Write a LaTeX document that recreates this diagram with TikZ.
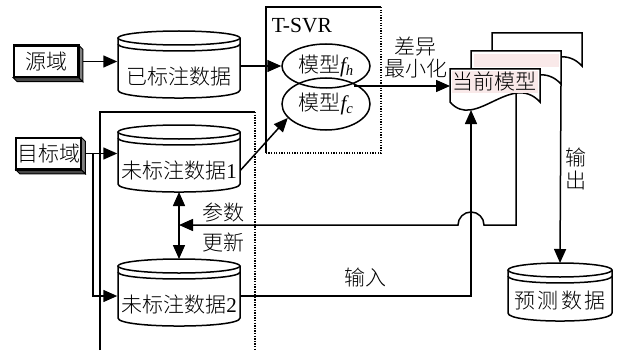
\documentclass[tikz,border=0pt]{standalone}
\usepackage{fontspec}
\setmainfont{Liberation Serif}
\IfFontExistsTF{Noto Sans CJK SC Light}{\newfontfamily\cjk{Noto Sans CJK SC Light}}{\newfontfamily\cjk{Noto Sans CJK SC}}
\usetikzlibrary{arrows.meta,shapes.geometric}
\definecolor{pinkbg}{RGB}{249,233,233}

\newcommand{\dbcyl}[4]{% x0, x1, top, side length
  \pgfmathsetmacro{\cylcx}{(#1+#2)/2}
  \pgfmathsetmacro{\cylrx}{(#2-#1)/2}
  \fill[white] (#1,#3+7) -- (#1,#3+7+#4) .. controls (#1,#3+7+#4+10.7) and (#2,#3+7+#4+10.7) .. (#2,#3+7+#4) -- (#2,#3+7) -- cycle;
  \draw (#1,#3+7) -- (#1,#3+7+#4) .. controls (#1,#3+7+#4+10.7) and (#2,#3+7+#4+10.7) .. (#2,#3+7+#4) -- (#2,#3+7);
  \filldraw[fill=white] (\cylcx,#3+7) ellipse [x radius=\cylrx, y radius=7];
  \draw (#1,#3+13) .. controls (#1,#3+22.3) and (#2,#3+22.3) .. (#2,#3+13);
}
\newcommand{\docpage}[2]{% top-left x, y
  \filldraw[fill=white] (#1,#2+33) -- (#1,#2) -- (#1+90,#2) -- (#1+90,#2+33) .. controls (#1+61,#2+2) and (#1+25,#2+62) .. (#1,#2+33) -- cycle;
}
\newcommand{\bevel}[1]{%
  \filldraw[fill=black!50, line width=1pt] (#1.north east) -- ([shift={(4,4)}]#1.north east) -- ([shift={(4,4)}]#1.south east) -- (#1.south east) -- cycle;
  \filldraw[fill=black!72, line width=1pt] (#1.south west) -- ([shift={(4,4)}]#1.south west) -- ([shift={(4,4)}]#1.south east) -- (#1.south east) -- cycle;
  \draw (#1.north west) rectangle (#1.south east);
}

\begin{document}
\begin{tikzpicture}[x=1pt,y=-1pt,line width=1.5pt,
  every node/.style={font=\cjk\fontsize{21}{24}\selectfont, inner sep=0pt},
  arr/.style={-{Triangle[length=14pt,width=12pt]}},
  arrb/.style={{Triangle[length=14pt,width=12pt]}-{Triangle[length=14pt,width=12pt]}},
  dotline/.style={line width=1.3pt, dash pattern=on 1.3pt off 1.3pt},
  frameline/.style={line width=1.3pt},
  domainbox/.style={draw, fill=white, minimum width=64, minimum height=31},
  ellnode/.style={draw, ellipse, minimum width=88}]
\useasboundingbox (0,0) rectangle (617,350);

% frames
\draw[frameline] (266,153) -- (266,7) -- (381,7);
\draw[dotline] (381,7) -- (381,153) -- (266,153);
\node[font=\fontsize{21.5}{24}\selectfont, anchor=west] (tsvr) at (271,26) {T-SVR};
\draw[frameline] (100,350) -- (100,112) -- (255,112);
\draw[dotline] (255,112) -- (255,350);

% domain boxes
\node[domainbox] (src) at (46,61.5) {源域};
\node[domainbox] (tgt) at (48.5,153.5) {目标域};

% cylinders
\dbcyl{118}{240}{31}{52}
\node[minimum width=122] (cyl0) at (179,76) {已标注数据};
\dbcyl{118}{240}{125}{52}
\node[minimum width=122] (cyl1) at (179,170) {未标注数据{\rmfamily 1}};
\dbcyl{118}{240}{259}{52}
\node[minimum width=122] (cyl2) at (179,304) {未标注数据{\rmfamily 2}};
\dbcyl{508}{612}{263}{43}
\node (pred) at (560,301) {预\hspace{2.5pt}测\hspace{2.5pt}数\hspace{2.5pt}据};

% ellipses
\node[ellnode, minimum height=44] (ellA) at (326,66) {模型{\rmfamily\itshape f}\textsubscript{\rmfamily\itshape h}};
\node[ellnode, minimum height=52] (ellB) at (326,104) {模型{\rmfamily\itshape f}\textsubscript{\rmfamily\itshape c}};

% helper coordinates
\coordinate (ellX) at (354,86);
\coordinate (docL) at (450,86);
\coordinate (docIn) at (471,110);
\coordinate (docPar) at (516,85);
\coordinate (docOut) at (561,84);
\coordinate (predTop) at (560,263);
\coordinate (tgtJ) at (93,153.5);
\coordinate (in2) at (179,296);
\coordinate (cyl1b) at (179,192);
\coordinate (cyl2t) at (179,259);
\coordinate (parJ) at (179,225);

% connectors
\draw[arr] (src.east) -- (src.east -| cyl0.west);
\draw[arr] (cyl0.east |- ellA.west) -- (ellA.west);
\draw[arr] (cyl1.east) -- (ellB.200);
\draw[arr] (ellX) -- (docL);
\draw[arr] (tgt.east) -- (tgt.east -| cyl1.west);
\draw[arr] (tgtJ) |- (cyl2.west |- in2);
\draw[arrb] (cyl1b) -- (cyl2t);
\draw[arr] (docPar) -- (516,225) -- (484,225) .. controls (484,217.8) and (478.2,212) .. (471,212) .. controls (463.8,212) and (458,217.8) .. (458,225) -- (parJ);
\draw[arr] (cyl2.east |- in2) -| (docIn);
\draw[arr] (docOut) -- (predTop);

\bevel{src}
\bevel{tgt}

% document stack
\docpage{492}{33}
\docpage{471}{51}
\fill[pinkbg] (474,54) rectangle (559,67);
\docpage{450}{69}
\fill[pinkbg] (452,71) rectangle (538,93);
\node (cur) at (494.5,81) {当前模型};

% labels
\node (l1) at (415,47) {差异};
\node (l2) at (416,69) {最小化};
\node (l3) at (223,213) {参数};
\node (l4) at (223,242) {更新};
\node (l5) at (365,278) {输入};
\node (l6) at (576,158) {输};
\node (l7) at (576,180) {出};
\end{tikzpicture}
\end{document}
